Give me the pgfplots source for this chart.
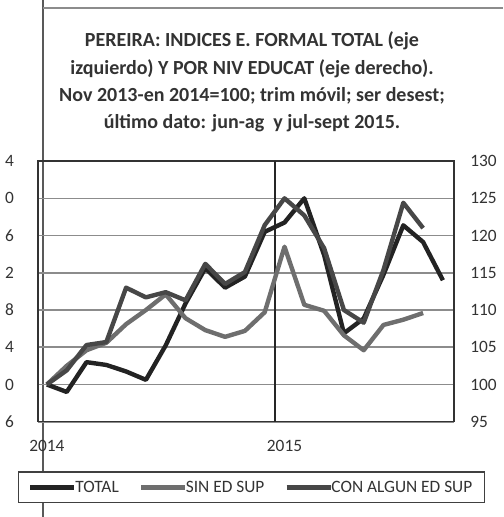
\documentclass[border=0pt]{standalone}
\usepackage{fontspec}
\setmainfont{Carlito}
\usepackage{pgfplots}
\pgfplotsset{compat=1.18}
\definecolor{ink}{HTML}{333333}
\definecolor{ctotal}{HTML}{232323}
\definecolor{csin}{HTML}{6E6E6E}
\definecolor{ccon}{HTML}{474747}
\definecolor{cgrid}{HTML}{8C8C8C}

\begin{document}
\begin{tikzpicture}
\useasboundingbox (0,0) rectangle (377.25pt,-387.75pt);
\clip (0,0) rectangle (377.25pt,-387.75pt);
% page borders visible in the scan
\draw[black!65, line width=0.8pt] (32.25pt,0) -- (32.25pt,-387.75pt);
\draw[black!45, line width=1pt] (32.25pt,-6pt) -- (377.25pt,-6pt);
\node[align=center, font=\bfseries\fontsize{15}{20.5}\selectfont, text=ink] at (189pt,-61.5pt)
  {PEREIRA: INDICES E. FORMAL TOTAL (eje\\
   izquierdo) Y POR NIV EDUCAT (eje derecho).\\
   Nov 2013-en 2014=100; trim móvil; ser desest;\\
   último dato: jun-ag\ \ y jul-sept 2015.};

% eje izquierdo: TOTAL (en la imagen solo se ve la última cifra)
\begin{axis}[
  at={(28.5pt,-316.3pt)}, anchor=south west,
  scale only axis, width=312pt, height=195.5pt,
  xmin=-0.45, xmax=20.56, ymin=96, ymax=124,
  ytick={96,100,...,124},
  yticklabels={6,0,4,8,2,6,0,4},
  xtick={0,12}, xticklabels={2014,2015},
  extra x ticks={11.52}, extra x tick labels={},
  extra x tick style={grid=major, major grid style={black!85, line width=1pt}},
  ymajorgrids, major grid style={cgrid, line width=1.2pt},
  major tick length=0,
  axis line style={black!80, line width=1pt},
  tick label style={font=\fontsize{13}{13}\selectfont, text=ink},
  yticklabel style={xshift=-14.5pt},
  xticklabel style={yshift=-10pt},
  /pgf/number format/assume math mode=true,
]
\addplot[ctotal, line width=3.3pt, line join=round] coordinates {
  (0,100) (1,99.2) (2,102.4) (3,102.1) (4,101.4) (5,100.5) (6,104.2)
  (7,108.7) (8,112.5) (9,110.4) (10,111.6) (11,116.4) (12,117.4)
  (13,120.0) (14,113.9) (15,105.5) (16,107.1) (17,111.8) (18,117.1)
  (19,115.3) (20,111.2)
};
\end{axis}

% eje derecho: por nivel educativo
\begin{axis}[
  at={(28.5pt,-316.3pt)}, anchor=south west,
  scale only axis, width=312pt, height=195.5pt,
  xmin=-0.45, xmax=20.56, ymin=95, ymax=130,
  ytick={95,100,...,130},
  axis y line*=right, axis x line=none,
  axis line style={draw=none},
  major tick length=0,
  tick label style={font=\fontsize{13}{13}\selectfont, text=ink},
  yticklabel style={xshift=8.7pt},
  /pgf/number format/assume math mode=true,
  legend columns=3,
  legend image code/.code={\draw[#1] (0pt,0pt) -- (33pt,0pt);},
  legend style={at={(1.0745,-0.252)}, anchor=east, draw=black!75, line width=1pt,
    font=\fontsize{13}{13}\selectfont, text=ink, inner ysep=4.5pt, inner xsep=7pt,
    /tikz/every even column/.append style={column sep=13pt},
    /tikz/every odd column/.append style={column sep=-3pt}},
]
\addlegendimage{ctotal, line width=3.5pt}
\addlegendentry{TOTAL}
\addplot[csin, line width=3.3pt, line join=round] coordinates {
  (0,100) (1,102.5) (2,104.6) (3,105.6) (4,108.1) (5,110.0) (6,112.1)
  (7,108.9) (8,107.3) (9,106.4) (10,107.2) (11,109.7) (12,118.5)
  (13,110.7) (14,109.9) (15,106.6) (16,104.6) (17,108.0) (18,108.7)
  (19,109.6)
};
\addlegendentry{SIN ED SUP}
\addplot[ccon, line width=3.3pt, line join=round] coordinates {
  (0,100) (1,101.9) (2,105.3) (3,105.7) (4,113.0) (5,111.7) (6,112.4)
  (7,111.3) (8,116.2) (9,113.5) (10,115.1) (11,121.4) (12,125.0)
  (13,122.7) (14,118.3) (15,110.0) (16,108.3) (17,115.4) (18,124.4)
  (19,121.0)
};
\addlegendentry{CON ALGUN ED SUP}
\end{axis}
\end{tikzpicture}
\end{document}
